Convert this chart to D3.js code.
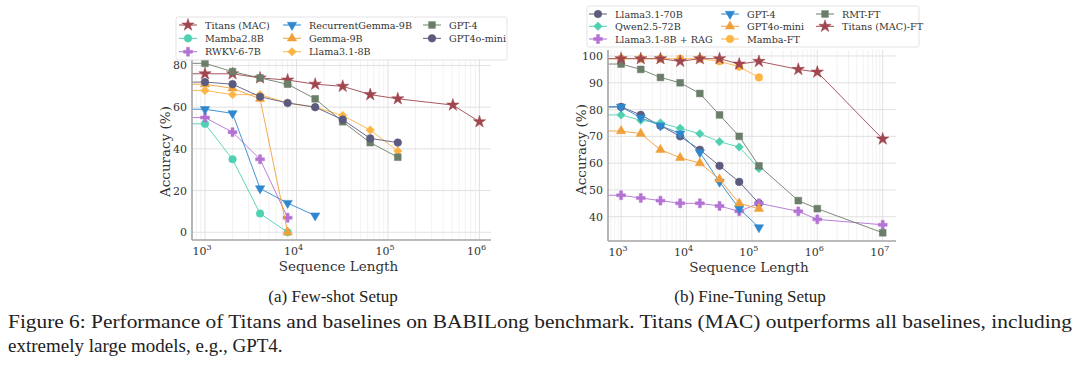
<!DOCTYPE html>
<html>
<head>
<meta charset="utf-8">
<script src="https://cdn.jsdelivr.net/npm/d3@7"></script>
<style>
body { margin: 0; background: #fff; }
svg { display: block; }
.serif { font-family: "DejaVu Serif", "Liberation Serif", serif; }
.cap { font-family: "Liberation Serif", "DejaVu Serif", serif; }
</style>
</head>
<body>
<div id="chart-area"></div>
<script>
// sequence lengths on the x axis
const seqFew = [1e3, 2e3, 4e3, 8e3, 16e3, 32e3, 64e3, 128e3, 512e3, 1e6]
const seqFT = [1e3, 2e3, 4e3, 8e3, 16e3, 32e3, 64e3, 128e3, 512e3, 1e6, 1e7]

// (a) few-shot accuracy (%)
const titansFew = [76, 76, 74, 73, 71, 70, 66, 64, 61, 53]
const mambaFew = [52, 35, 9, 0]
const rwkvFew = [55, 48, 35, 7]
const recGemmaFew = [59, 57, 21, 14, 8]
const gemmaFew = [71, 69, 64, 0]
const llama8Few = [68, 66, 66, 62, 60, 56, 49, 39]
const gpt4Few = [81, 77, 74, 71, 64, 53, 43, 36]
const gpt4oMiniFew = [72, 71, 65, 62, 60, 54, 45, 43]

// (b) fine-tuning accuracy (%)
const llama70FT = [81, 78, 74, 70, 65, 59, 53, 45]
const qwenFT = [78, 76, 75, 73, 71, 68, 66, 58]
const ragFT = [48, 47, 46, 45, 45, 44, 42, 45, 42, 39, 37]
const gpt4FT = [81, 77, 74, 71, 64, 53, 43, 36]
const gpt4oMiniFT = [72, 71, 65, 62, 60, 54, 45, 43]
const mambaFT = [99, 99, 99, 99, 99, 98, 96, 92]
const rmtFT = [97, 95, 92, 90, 86, 78, 70, 59, 46, 43, 34]
const titansFT = [99, 99, 99, 98, 99, 99, 97, 98, 95, 94, 69]

const yTicksFew = [0, 20, 40, 60, 80]
const yTicksFT = [40, 50, 60, 70, 80, 90, 100]
const xTicksFew = [3, 4, 5, 6]
const xTicksFT = [3, 4, 5, 6, 7]

const C = {
	red: "#a0464f", teal: "#4fd1b1", purple: "#b472d4", blue: "#2f88cf",
	orange: "#f0a03a", gold: "#fcb443", green: "#6b7e69", slate: "#5c5b7e"
}

const svg = d3.select("#chart-area").append("svg")
	.attr("width", 1080)
	.attr("height", 384)
	.style("background", "#fff")

function markerPath(kind) {
	if (kind === "star") return d3.symbol().type(d3.symbolStar).size(48)()
	if (kind === "circle") return d3.symbol().type(d3.symbolCircle).size(46)()
	if (kind === "plus") return d3.symbol().type(d3.symbolCross).size(44)()
	if (kind === "square") return d3.symbol().type(d3.symbolSquare).size(46)()
	if (kind === "diamond") return d3.symbol().type(d3.symbolSquare).size(36)()
	return d3.symbol().type(d3.symbolTriangle).size(38)()
}
function markerRotate(kind) {
	if (kind === "down") return 180
	if (kind === "diamond") return 45
	return 0
}

function panel(cfg) {
	const x = d3.scaleLog().domain(cfg.xDomain).range([cfg.left, cfg.right])
	const y = d3.scaleLinear().domain(cfg.yDomain).range([cfg.bottom, cfg.top])
	const g = svg.append("g")

	// minor vertical grid (log)
	const minors = []
	for (let e = 2; e <= 7; e++) {
		for (let m = 2; m < 10; m++) {
			const v = m * Math.pow(10, e)
			if (v > cfg.xDomain[0] && v < cfg.xDomain[1]) minors.push(v)
		}
	}
	g.selectAll(".minor").data(minors).enter().append("line")
		.attr("x1", d => x(d)).attr("x2", d => x(d))
		.attr("y1", cfg.top).attr("y2", cfg.bottom)
		.attr("stroke", "#ececec").attr("stroke-width", 0.7)

	// major grid
	g.selectAll(".vgrid").data(cfg.xTicks).enter().append("line")
		.attr("x1", d => x(Math.pow(10, d))).attr("x2", d => x(Math.pow(10, d)))
		.attr("y1", cfg.top).attr("y2", cfg.bottom)
		.attr("stroke", "#dedede").attr("stroke-width", 0.9)
	g.selectAll(".hgrid").data(cfg.yTicks).enter().append("line")
		.attr("x1", cfg.left).attr("x2", cfg.right)
		.attr("y1", d => y(d)).attr("y2", d => y(d))
		.attr("stroke", "#dedede").attr("stroke-width", 0.9)

	// series
	const line = d3.line().x(d => x(d[0])).y(d => y(d[1]))
	cfg.series.forEach(s => {
		const pts = s.y.map((v, i) => [s.x[i], v])
		// line continues to the left edge of the axes
		const path = [[cfg.xDomain[0], s.y[0]]].concat(pts)
		g.append("path")
			.attr("d", line(path))
			.attr("fill", "none")
			.attr("stroke", s.color)
			.attr("stroke-width", 1)
			.attr("stroke-opacity", 0.9)
		g.selectAll(null).data(pts).enter().append("path")
			.attr("d", markerPath(s.marker))
			.attr("transform", d => `translate(${x(d[0])},${y(d[1])}) rotate(${markerRotate(s.marker)})`)
			.attr("fill", s.color)
			.attr("stroke", s.color)
			.attr("stroke-width", 0.5)
	})

	// spines
	g.append("line").attr("x1", cfg.left).attr("x2", cfg.left)
		.attr("y1", cfg.top).attr("y2", cfg.bottom)
		.attr("stroke", "#a4a4a4").attr("stroke-width", 1.6)
	g.append("line").attr("x1", cfg.left).attr("x2", cfg.right)
		.attr("y1", cfg.bottom).attr("y2", cfg.bottom)
		.attr("stroke", "#a4a4a4").attr("stroke-width", 1.6)

	// tick labels
	g.selectAll(".ytl").data(cfg.yTicks).enter().append("text")
		.attr("class", "serif")
		.attr("x", cfg.left - 5).attr("y", d => y(d) + 4)
		.attr("text-anchor", "end")
		.attr("font-size", 11).attr("fill", "#333")
		.text(d => d)
	const xl = g.selectAll(".xtl").data(cfg.xTicks).enter().append("text")
		.attr("class", "serif")
		.attr("x", d => x(Math.pow(10, d)) - 3).attr("y", cfg.bottom + 15)
		.attr("text-anchor", "middle")
		.attr("font-size", 11).attr("fill", "#333")
	xl.append("tspan").text("10")
	xl.append("tspan").attr("dy", -5).attr("font-size", 8).text(d => d)

	// axis labels
	g.append("text")
		.attr("class", "serif")
		.attr("x", (cfg.left + cfg.right) / 2 - 3).attr("y", cfg.bottom + 31)
		.attr("text-anchor", "middle")
		.attr("font-size", 13.5).attr("fill", "#333")
		.text("Sequence Length")
	g.append("text")
		.attr("class", "serif")
		.attr("transform", `translate(${cfg.left - 22},${(cfg.top + cfg.bottom) / 2 + 4}) rotate(-90)`)
		.attr("text-anchor", "middle")
		.attr("font-size", 13.5).attr("fill", "#333")
		.text("Accuracy (%)")

	// legend
	const L = cfg.legend
	g.append("rect")
		.attr("x", L.x).attr("y", L.y).attr("width", L.w).attr("height", L.h)
		.attr("rx", 2)
		.attr("fill", "#fff").attr("fill-opacity", 0.85)
		.attr("stroke", "#dcdcdc").attr("stroke-width", 0.8)
	cfg.series.forEach((s, i) => {
		const cx = L.cols[Math.floor(i / 3)]
		const cy = L.rows[i % 3]
		g.append("line").attr("x1", cx - 9).attr("x2", cx + 9)
			.attr("y1", cy).attr("y2", cy)
			.attr("stroke", s.color).attr("stroke-width", 1)
		g.append("path")
			.attr("d", markerPath(s.marker))
			.attr("transform", `translate(${cx},${cy}) rotate(${markerRotate(s.marker)})`)
			.attr("fill", s.color).attr("stroke", s.color).attr("stroke-width", 0.5)
		g.append("text")
			.attr("class", "serif")
			.attr("x", cx + 17).attr("y", cy + 3.5)
			.attr("font-size", 9.6).attr("fill", "#333")
			.text(s.name)
	})

	// sub caption
	svg.append("text")
		.attr("class", "cap")
		.attr("x", cfg.capX).attr("y", 302)
		.attr("text-anchor", "middle")
		.attr("font-size", 17).attr("fill", "#222")
		.text(cfg.caption)
}

panel({
	left: 192, right: 491, top: 55, bottom: 240,
	xDomain: [Math.pow(10, 2.858), Math.pow(10, 6.126)],
	yDomain: [-3.7, 85],
	xTicks: xTicksFew, yTicks: yTicksFew,
	caption: "(a) Few-shot Setup", capX: 333,
	legend: { x: 176, y: 17, w: 331, h: 43, cols: [188, 292, 432], rows: [25, 38.3, 51.7] },
	series: [
		{ name: "Titans (MAC)", x: seqFew, y: titansFew, color: C.red, marker: "star" },
		{ name: "Mamba2.8B", x: seqFew, y: mambaFew, color: C.teal, marker: "circle" },
		{ name: "RWKV-6-7B", x: seqFew, y: rwkvFew, color: C.purple, marker: "plus" },
		{ name: "RecurrentGemma-9B", x: seqFew, y: recGemmaFew, color: C.blue, marker: "down" },
		{ name: "Gemma-9B", x: seqFew, y: gemmaFew, color: C.orange, marker: "up" },
		{ name: "Llama3.1-8B", x: seqFew, y: llama8Few, color: C.gold, marker: "diamond" },
		{ name: "GPT-4", x: seqFew, y: gpt4Few, color: C.green, marker: "square" },
		{ name: "GPT4o-mini", x: seqFew, y: gpt4oMiniFew, color: C.slate, marker: "circle" }
	]
})

panel({
	left: 608, right: 896, top: 50, bottom: 241,
	xDomain: [Math.pow(10, 2.8), Math.pow(10, 7.203)],
	yDomain: [30.93, 102.24],
	xTicks: xTicksFT, yTicks: yTicksFT,
	caption: "(b) Fine-Tuning Setup", capX: 750,
	legend: { x: 587, y: 6, w: 332, h: 41, cols: [598, 730, 825], rows: [14, 26.3, 39] },
	series: [
		{ name: "Llama3.1-70B", x: seqFT, y: llama70FT, color: C.slate, marker: "circle" },
		{ name: "Qwen2.5-72B", x: seqFT, y: qwenFT, color: C.teal, marker: "diamond" },
		{ name: "Llama3.1-8B + RAG", x: seqFT, y: ragFT, color: C.purple, marker: "plus" },
		{ name: "GPT-4", x: seqFT, y: gpt4FT, color: C.blue, marker: "down" },
		{ name: "GPT4o-mini", x: seqFT, y: gpt4oMiniFT, color: C.orange, marker: "up" },
		{ name: "Mamba-FT", x: seqFT, y: mambaFT, color: C.gold, marker: "circle" },
		{ name: "RMT-FT", x: seqFT, y: rmtFT, color: C.green, marker: "square" },
		{ name: "Titans (MAC)-FT", x: seqFT, y: titansFT, color: C.red, marker: "star" }
	]
})

// figure caption
const captionLines = [
	"Figure 6: Performance of Titans and baselines on BABILong benchmark. Titans (MAC) outperforms all baselines, including",
	"extremely large models, e.g., GPT4."
]
svg.append("text")
	.attr("class", "cap")
	.attr("x", 8).attr("y", 328)
	.attr("font-size", 19).attr("fill", "#222")
	.attr("textLength", 1064).attr("lengthAdjust", "spacingAndGlyphs")
	.text(captionLines[0])
svg.append("text")
	.attr("class", "cap")
	.attr("x", 8).attr("y", 352)
	.attr("font-size", 19).attr("fill", "#222")
	.text(captionLines[1])
</script>
</body>
</html>
